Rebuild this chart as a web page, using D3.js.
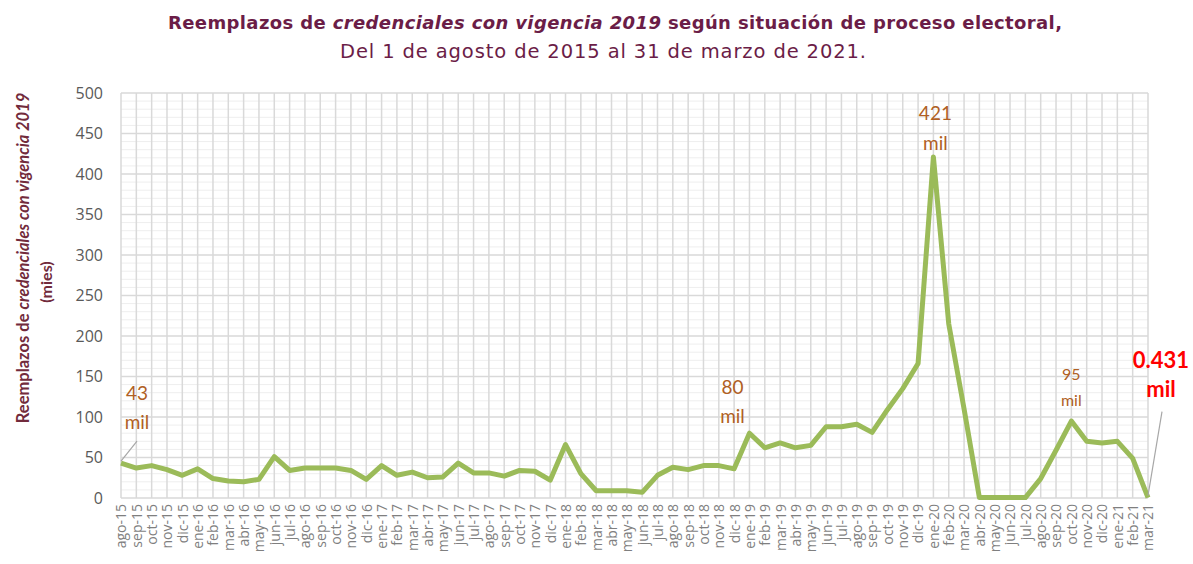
<!DOCTYPE html>
<html>
<head>
<meta charset="utf-8">
<script src="https://cdn.jsdelivr.net/npm/d3@7"></script>
<style>
  body { margin: 0; background: #fff; }
  svg { display: block; }
</style>
</head>
<body>
<div id="chart"></div>
<script>
// meses de ago-15 a mar-21
var months = ['ago-15', 'sep-15', 'oct-15', 'nov-15', 'dic-15',
    'ene-16', 'feb-16', 'mar-16', 'abr-16', 'may-16', 'jun-16', 'jul-16', 'ago-16', 'sep-16', 'oct-16', 'nov-16', 'dic-16',
    'ene-17', 'feb-17', 'mar-17', 'abr-17', 'may-17', 'jun-17', 'jul-17', 'ago-17', 'sep-17', 'oct-17', 'nov-17', 'dic-17',
    'ene-18', 'feb-18', 'mar-18', 'abr-18', 'may-18', 'jun-18', 'jul-18', 'ago-18', 'sep-18', 'oct-18', 'nov-18', 'dic-18',
    'ene-19', 'feb-19', 'mar-19', 'abr-19', 'may-19', 'jun-19', 'jul-19', 'ago-19', 'sep-19', 'oct-19', 'nov-19', 'dic-19',
    'ene-20', 'feb-20', 'mar-20', 'abr-20', 'may-20', 'jun-20', 'jul-20', 'ago-20', 'sep-20', 'oct-20', 'nov-20', 'dic-20',
    'ene-21', 'feb-21', 'mar-21'];

// reemplazos (miles)
var replacements = [43, 37, 40, 35, 28,
    36, 24, 21, 20, 23, 51, 34, 37, 37, 37, 34, 23,
    40, 28, 32, 25, 26, 43, 31, 31, 27, 34, 33, 22,
    66, 30, 9, 9, 9, 7, 28, 38, 35, 40, 40, 36,
    80, 62, 68, 62, 65, 88, 88, 91, 81, 109, 135, 166,
    421, 215, 110, 0.5, 0.5, 0.5, 0.5, 24, 59, 95, 70, 68, 70, 49,
    0.431];

var yTicks = [0, 50, 100, 150, 200, 250, 300, 350, 400, 450, 500];

// etiquetas de datos
var labels = [
    { month: 'ago-15', line1: '43', line2: 'mil' },
    { month: 'ene-19', line1: '80', line2: 'mil' },
    { month: 'ene-20', line1: '421', line2: 'mil' },
    { month: 'oct-20', line1: '95', line2: 'mil' },
    { month: 'mar-21', line1: '0.431', line2: 'mil' }
];

var width = 1193, height = 564;
var margin = { top: 93, right: 45, bottom: 66, left: 121 };

var svg = d3.select('#chart').append('svg')
    .attr('width', width)
    .attr('height', height);

var x = d3.scalePoint()
    .domain(months)
    .range([margin.left, width - margin.right]);

var y = d3.scaleLinear()
    .domain([0, 500])
    .range([height - margin.bottom, margin.top]);

// minor gridlines every 10
svg.append('g')
    .selectAll('line')
    .data(d3.range(10, 500, 10).filter(function (d) { return d % 50 != 0; }))
    .enter().append('line')
    .attr('x1', margin.left)
    .attr('x2', width - margin.right)
    .attr('y1', function (d) { return y(d); })
    .attr('y2', function (d) { return y(d); })
    .attr('stroke', '#eeeeee')
    .attr('stroke-width', 1);

// vertical gridlines
svg.append('g')
    .selectAll('line')
    .data(months)
    .enter().append('line')
    .attr('x1', function (d) { return x(d); })
    .attr('x2', function (d) { return x(d); })
    .attr('y1', y(500))
    .attr('y2', y(0))
    .attr('stroke', '#d9d9d9')
    .attr('stroke-width', 1.5);

// major horizontal gridlines
svg.append('g')
    .selectAll('line')
    .data(yTicks)
    .enter().append('line')
    .attr('x1', margin.left)
    .attr('x2', width - margin.right)
    .attr('y1', function (d) { return y(d); })
    .attr('y2', function (d) { return y(d); })
    .attr('stroke', '#d9d9d9')
    .attr('stroke-width', 1.5);

// y axis
var yAxis = svg.append('g')
    .attr('transform', 'translate(' + (margin.left - 18) + ',0)')
    .call(d3.axisLeft(y).tickValues(yTicks).tickSize(0).tickPadding(0));
yAxis.select('.domain').remove();
yAxis.selectAll('text')
    .attr('fill', '#595959')
    .style('font-family', 'Open Sans, sans-serif')
    .style('font-size', '16px');

// x axis
var xAxis = svg.append('g')
    .attr('transform', 'translate(0,' + y(0) + ')')
    .call(d3.axisBottom(x).tickSize(0).tickPadding(0));
xAxis.select('.domain').remove();
xAxis.selectAll('text')
    .attr('fill', '#7f7f7f')
    .attr('transform', 'translate(0,6) rotate(-90)')
    .attr('text-anchor', 'end')
    .attr('dy', '0.35em')
    .attr('x', 0)
    .attr('y', 0)
    .style('font-family', 'Open Sans, sans-serif')
    .style('font-size', '14px');

// line
var line = d3.line()
    .x(function (d, i) { return x(months[i]); })
    .y(function (d) { return y(d); });

svg.append('path')
    .datum(replacements)
    .attr('d', line)
    .attr('fill', 'none')
    .attr('stroke', '#9bbb59')
    .attr('stroke-width', 5)
    .attr('stroke-linejoin', 'round');

// leader lines
svg.append('line')
    .attr('x1', x('ago-15')).attr('y1', y(43) - 2)
    .attr('x2', x('ago-15') + 16).attr('y2', y(43) - 22)
    .attr('stroke', '#a6a6a6').attr('stroke-width', 1.2);
svg.append('line')
    .attr('x1', x('mar-21')).attr('y1', y(0.431) - 2)
    .attr('x2', x('mar-21') + 14).attr('y2', y(0.431) - 86)
    .attr('stroke', '#a6a6a6').attr('stroke-width', 1.2);

// data labels
var labelStyle = {
    'ago-15': { dx: 16, dy1: -63, dy2: -34, size: 19, color: '#b05f24', weight: 'normal' },
    'ene-19': { dx: -17, dy1: -39, dy2: -10, size: 19, color: '#b05f24', weight: 'normal' },
    'ene-20': { dx: 2, dy1: -37, dy2: -7, size: 19, color: '#b05f24', weight: 'normal' },
    'oct-20': { dx: 0, dy1: -41, dy2: -15, size: 16, color: '#b05f24', weight: 'normal' },
    'mar-21': { dx: 13, dy1: -130, dy2: -101, size: 22, color: '#ff0000', weight: 'bold' }
};

var lg = svg.append('g')
    .style('font-family', 'Lato, Open Sans, sans-serif')
    .attr('text-anchor', 'middle');

labels.forEach(function (l) {
    var s = labelStyle[l.month];
    var v = replacements[months.indexOf(l.month)];
    var px = x(l.month) + s.dx, py = y(v);
    var t = lg.append('text')
        .attr('fill', s.color)
        .style('font-size', s.size + 'px')
        .style('font-weight', s.weight);
    t.append('tspan').attr('x', px).attr('y', py + s.dy1).text(l.line1);
    t.append('tspan').attr('x', px).attr('y', py + s.dy2).text(l.line2);
});

// title
var title = svg.append('text')
    .attr('x', 168)
    .attr('y', 29)
    .attr('textLength', 894)
    .attr('lengthAdjust', 'spacing')
    .attr('fill', '#6b1d47')
    .style('font-family', 'DejaVu Sans, sans-serif')
    .style('font-size', '18px')
    .style('font-weight', 'bold');
title.append('tspan').text('Reemplazos de ');
title.append('tspan').style('font-style', 'italic').text('credenciales con vigencia 2019');
title.append('tspan').text(' según situación de proceso electoral,');

svg.append('text')
    .attr('x', 340)
    .attr('y', 58)
    .attr('textLength', 526)
    .attr('lengthAdjust', 'spacing')
    .attr('fill', '#6b1d47')
    .style('font-family', 'DejaVu Sans, sans-serif')
    .style('font-size', '19.5px')
    .text('Del 1 de agosto de 2015 al 31 de marzo de 2021.');

// y axis title
var yt = svg.append('text')
    .attr('transform', 'translate(29,258) rotate(-90)')
    .attr('text-anchor', 'middle')
    .attr('fill', '#722b3c')
    .style('font-family', 'Lato, sans-serif')
    .style('font-size', '16.5px')
    .style('font-weight', 'bold');
yt.append('tspan').text('Reemplazos de ');
yt.append('tspan').style('font-style', 'italic').text('credenciales con vigencia 2019');

svg.append('text')
    .attr('transform', 'translate(52,282) rotate(-90)')
    .attr('text-anchor', 'middle')
    .attr('fill', '#722b3c')
    .style('font-family', 'Lato, sans-serif')
    .style('font-size', '16px')
    .style('font-weight', 'bold')
    .text('(mies)');
</script>
</body>
</html>
